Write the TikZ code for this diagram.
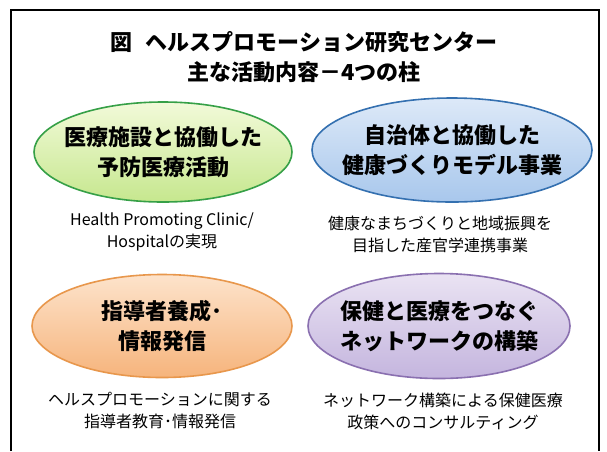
\documentclass[tikz,border=0pt]{standalone}
\usepackage{fontspec}
\usetikzlibrary{shapes.geometric}
\newfontfamily\jp{Noto Sans CJK JP}
\definecolor{gBd}{HTML}{36A047}
\definecolor{gTop}{HTML}{F2FAD9}
\definecolor{gBot}{HTML}{C6E78E}
\definecolor{bBd}{HTML}{3470B0}
\definecolor{bTop}{HTML}{DDE9F8}
\definecolor{bBot}{HTML}{A8C7EC}
\definecolor{oBd}{HTML}{E8974C}
\definecolor{oTop}{HTML}{FDE3CB}
\definecolor{oBot}{HTML}{F6B47C}
\definecolor{pBd}{HTML}{8A70B0}
\definecolor{pTop}{HTML}{EAE3F3}
\definecolor{pBot}{HTML}{C4B5DE}
\tikzset{
  pillar/.style={ellipse, line width=1.6pt, inner sep=0pt},
  pillartext/.style={align=center, inner sep=0pt,
    font=\jp\bfseries\fontsize{22}{30}\selectfont},
  subtext/.style={align=center, font=\jp\fontsize{16}{22}\selectfont},
  titletext/.style={align=center, font=\jp\bfseries\fontsize{22}{30}\selectfont}
}
\begin{document}
\begin{tikzpicture}[x=1pt,y=-1pt]
\useasboundingbox (0,0) rectangle (607,451);
\fill[white] (0,0) rectangle (607,451);
\draw[line width=2pt] (11,451) -- (11,10) -- (599,10) -- (599,451);
\node[titletext] (title) at (304,57) {図\hspace{0.6em}ヘルスプロモーション研究センター\\主な活動内容－4つの柱};
\node[pillar, draw=gBd, top color=gTop, bottom color=gBot, minimum width=258pt, minimum height=100pt] (e1) at (163,152) {};
\node[pillar, draw=bBd, top color=bTop, bottom color=bBot, minimum width=280pt, minimum height=104pt] (e2) at (452,150) {};
\node[pillar, draw=oBd, top color=oTop, bottom color=oBot, minimum width=260pt, minimum height=103pt] (e3) at (162,326) {};
\node[pillar, draw=pBd, top color=pTop, bottom color=pBot, minimum width=262pt, minimum height=105pt] (e4) at (439,326) {};
\node[pillartext] (t1) at (e1.center) {医療施設と協働した\\予防医療活動};
\node[pillartext] (t2) at (e2.center) {自治体と協働した\\健康づくりモデル事業};
\node[pillartext] (t3) at (e3.center) {指導者養成･\\情報発信};
\node[pillartext] (t4) at (e4.center) {保健と医療をつなぐ\\ネットワークの構築};
\node[subtext] (s1) at (162,232) {Health Promoting Clinic/\\Hospitalの実現};
\node[subtext] (s2) at (440,234) {健康なまちづくりと地域振興を\\目指した産官学連携事業};
\node[subtext] (s3) at (160,411) {ヘルスプロモーションに関する\\指導者教育･情報発信};
\node[subtext] (s4) at (443,411) {ネットワーク構築による保健医療\\政策へのコンサルティング};
\end{tikzpicture}
\end{document}
